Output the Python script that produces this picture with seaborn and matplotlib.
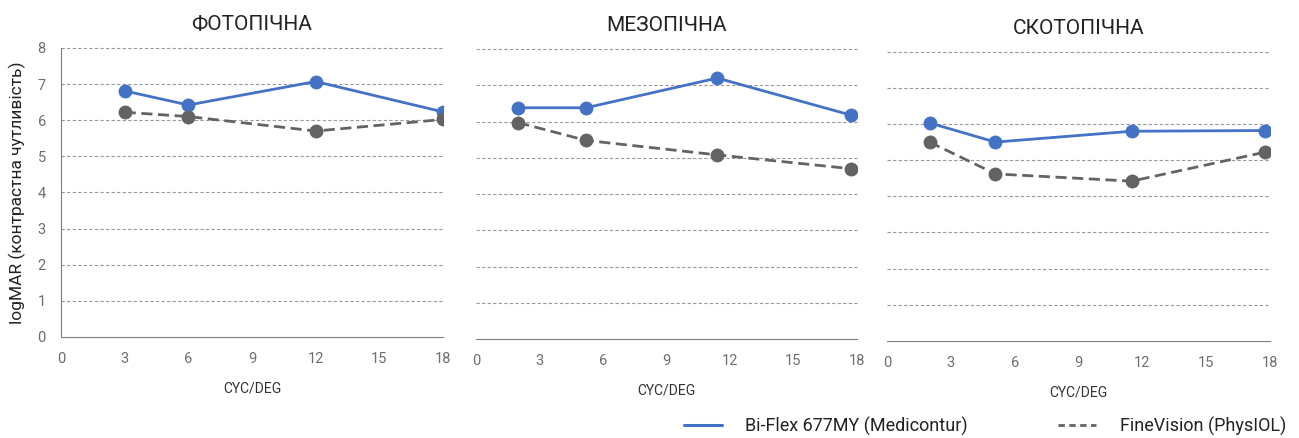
import pandas as pd
import numpy as np
import seaborn as sns
from matplotlib import pyplot as plt
from matplotlib.lines import Line2D

# panel titles and series names
panels = ['ФОТОПІЧНА', 'МЕЗОПІЧНА', 'СКОТОПІЧНА']
series = ['Bi-Flex 677MY (Medicontur)', 'FineVision (PhysIOL)']

# spatial frequency (cyc/deg) per panel
photo_x = [3, 6, 12, 18]
meso_x = [2, 5.2, 11.4, 17.7]
scoto_x = [2, 5.1, 11.5, 17.75]

# values
photo_biflex = [6.81, 6.42, 7.07, 6.23]
photo_fine = [6.22, 6.10, 5.70, 6.02]
meso_biflex = [6.38, 6.38, 7.20, 6.18]
meso_fine = [5.97, 5.48, 5.08, 4.70]
scoto_biflex = [6.03, 5.50, 5.80, 5.82]
scoto_fine = [5.50, 4.62, 4.42, 5.22]

x_ticks = [0, 3, 6, 9, 12, 15, 18]
y_ticks = [0, 1, 2, 3, 4, 5, 6, 7, 8]

rows = []
for name, xs, b, f in [(panels[0], photo_x, photo_biflex, photo_fine),
                       (panels[1], meso_x, meso_biflex, meso_fine),
                       (panels[2], scoto_x, scoto_biflex, scoto_fine)]:
    for xv, bv, fv in zip(xs, b, f):
        rows.append({'panel': name, 'freq': xv, 'lens': series[0], 'val': bv})
        rows.append({'panel': name, 'freq': xv, 'lens': series[1], 'val': fv})
df = pd.DataFrame(rows)

sns.set_style('white')
plt.rcParams['font.family'] = ['Roboto', 'DejaVu Sans']

blue = '#4472c4'
gray = '#636363'
palette = {series[0]: blue, series[1]: gray}
dashes = {series[0]: '', series[1]: (4, 2)}

fig = plt.figure(figsize=(12.99, 4.38), dpi=100)
boxes = [(0.047, 0.2306, 0.294, 0.660),
         (0.3664, 0.226, 0.2933, 0.662),
         (0.6828, 0.2215, 0.2949, 0.6605)]

for i, (name, box) in enumerate(zip(panels, boxes)):
    ax = fig.add_axes(box)
    sub = df[df.panel == name]
    sns.lineplot(data=sub, x='freq', y='val', hue='lens', style='lens',
                 palette=palette, dashes=dashes, marker='o', markersize=10,
                 markeredgewidth=0, linewidth=2, ax=ax, legend=False)
    ax.set_xlim(0, 18)
    ax.set_ylim(0, 8)
    ax.set_xticks(x_ticks)
    ax.set_yticks(y_ticks)
    for yv in y_ticks[1:]:
        ax.axhline(yv, color='#9a9a9a', lw=0.8, ls=(0, (3, 2)), zorder=0,
                   clip_on=False)
    ax.tick_params(axis='both', colors='#6e6e6e', labelsize=10.5, length=0, pad=11)
    ax.set_title(name, fontsize=15, color='#222222', pad=13)
    ax.set_xlabel('CYC/DEG', fontsize=10, color='#333333', labelpad=11)
    for s in ['top', 'right']:
        ax.spines[s].set_visible(False)
    ax.spines['bottom'].set_color('#7f7f7f')
    ax.spines['left'].set_color('#7f7f7f')
    if i == 0:
        ax.set_ylabel('logMAR (контрастна чутливість)', fontsize=12.5,
                      color='#222222', labelpad=8)
    else:
        ax.set_ylabel('')
        ax.set_yticklabels([])
        ax.spines['left'].set_visible(False)

# legend handles: short dashes for the grey entry, as in the original
handles = [Line2D([], [], color=blue, lw=2.2),
           Line2D([], [], color=gray, lw=2, ls=(0, (2.3, 1.6)))]
leg = fig.legend(handles, series, loc='center left', bbox_to_anchor=(0.5266, 0.027),
                 ncol=2, frameon=False, fontsize=13, handlelength=2.1,
                 handletextpad=1.3, columnspacing=5.0, borderpad=0,
                 borderaxespad=0)
for t in leg.get_texts():
    t.set_color('#222222')

plt.savefig('out.png', dpi=100)
